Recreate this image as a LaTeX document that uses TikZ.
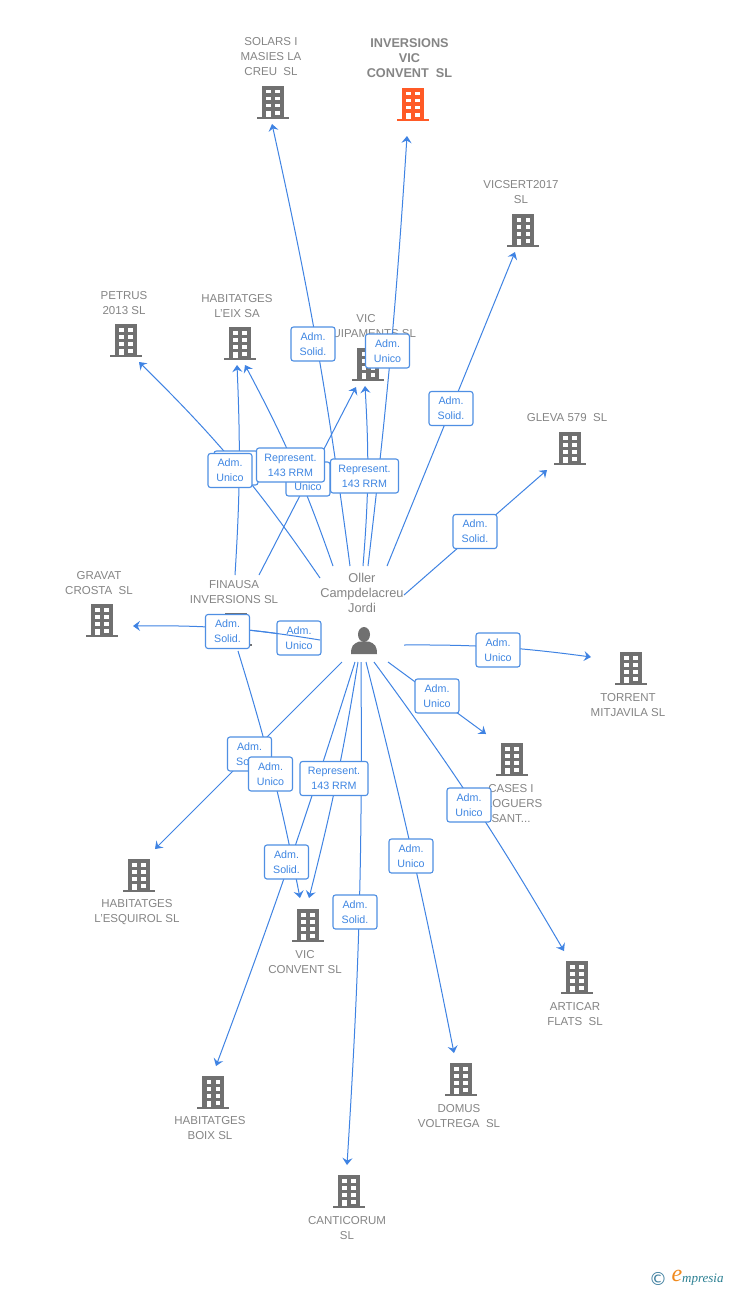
\documentclass[tikz,border=0pt]{standalone}
\usepackage{fontspec}
\setmainfont{Liberation Sans}
\newfontfamily\logofont{Liberation Serif}
\newfontfamily\symfont{DejaVu Sans}
\usetikzlibrary{arrows.meta}
\definecolor{conncol}{HTML}{3F83E3}
\definecolor{boxcol}{HTML}{4F8FE3}
\definecolor{boxtext}{HTML}{3F86E2}
\definecolor{graytext}{HTML}{858585}
\definecolor{iconcol}{HTML}{707070}
\definecolor{hotcol}{HTML}{FF5A26}
\definecolor{logoblue}{HTML}{3F7F9F}
\definecolor{logoteal}{HTML}{2A7F92}
\definecolor{logoorange}{HTML}{F08A1E}
\tikzset{
  conn/.style={draw=conncol,line width=1pt,-{Stealth[length=7pt,width=10pt,inset=2.5pt]}},
  lbl/.style={draw=boxcol,line width=1.1pt,rounded corners=2.5pt,fill=white,text=boxtext,
    minimum width=44pt,minimum height=34pt,inner sep=0pt,align=center,
    font=\fontsize{10.7}{15}\selectfont},
  lblwide/.style={lbl,minimum width=68pt},
  comp/.style={text=graytext,align=center,inner sep=0pt,yshift=-1pt,font=\fontsize{11.5}{15}\selectfont},
  compmain/.style={text=graytext,align=center,inner sep=0pt,font=\fontsize{12.7}{15}\selectfont\bfseries},
  persontext/.style={text=graytext,align=center,inner sep=0pt,font=\fontsize{12.8}{15}\selectfont},
  hub/.style={inner sep=0pt,outer sep=0pt},
}
\newcommand{\bldg}[3]{%
  \begin{scope}[shift={(#1,#2)}]
    \fill[#3] (-11,-16) rectangle (11,15.5);
    \fill[#3] (-16,15) rectangle (16,17);
    \foreach \yy in {-12,-5,2}{
      \fill[white] (-6.5,\yy) rectangle (-2,\yy+3.7);
      \fill[white] (2.5,\yy) rectangle (7,\yy+3.7);
    }
    \fill[white] (-6.5,9) rectangle (-2,15.2);
    \fill[white] (2.5,9) rectangle (7,13);
  \end{scope}}
\begin{document}
\begin{tikzpicture}[x=1pt,y=-1pt]
\useasboundingbox[fill=white] (0,0) rectangle (728,1290);

% building icons
\bldg{272.5}{101.5}{iconcol}
\bldg{412.5}{103.5}{hotcol}
\bldg{523}{230}{iconcol}
\bldg{125.5}{340}{iconcol}
\bldg{239.5}{343}{iconcol}
\bldg{368}{364}{iconcol}
\bldg{569.5}{448}{iconcol}
\bldg{101.5}{620}{iconcol}
\bldg{236}{629}{iconcol}
\bldg{630.5}{668}{iconcol}
\bldg{511.5}{759}{iconcol}
\bldg{138.5}{875}{iconcol}
\bldg{307.5}{925}{iconcol}
\bldg{576.5}{977}{iconcol}
\bldg{213}{1092}{iconcol}
\bldg{460.5}{1079}{iconcol}
\bldg{348.5}{1191}{iconcol}

% company names
\node[comp] (solars) at (271,56) {SOLARS I\\MASIES LA\\CREU\ \ SL};
\node[compmain] (inversions) at (409.5,58) {INVERSIONS\\VIC\\CONVENT\ \ SL};
\node[comp] (vicsert) at (521,191.5) {VICSERT2017\\SL};
\node[comp] (petrus) at (124,302) {PETRUS\\2013 SL};
\node[comp] (eix) at (237,305) {HABITATGES\\L'EIX SA};
\node[comp] (equip) at (366,326) {VIC\\EQUIPAMENTS SL};
\node[comp] (gleva) at (567,417) {GLEVA 579\ \ SL};
\node[comp] (gravat) at (99,582) {GRAVAT\\CROSTA\ \ SL};
\node[comp] (finausatxt) at (234,591.5) {FINAUSA\\INVERSIONS SL};
\node[comp] (torrent) at (628,704.5) {TORRENT\\MITJAVILA SL};
\node[comp] (cases) at (511,803) {CASES I\\LLOGUERS\\SANT...};
\node[comp] (esquirol) at (137,911.5) {HABITATGES\\L'ESQUIROL SL};
\node[comp] (convent) at (305,961.5) {VIC\\CONVENT SL};
\node[comp] (articar) at (575,1013.5) {ARTICAR\\FLATS\ \ SL};
\node[comp] (boix) at (210,1127.5) {HABITATGES\\BOIX SL};
\node[comp] (domus) at (459,1115.5) {DOMUS\\VOLTREGA\ \ SL};
\node[comp] (canti) at (347,1227.5) {CANTICORUM\\SL};

% person
\node[persontext] (personname) at (362,593) {Oller\\Campdelacreu\\Jordi};
\fill[iconcol] (364,634.5) ellipse (6pt and 7.5pt);
\fill[iconcol] (351,654) .. controls (351,646) and (353,644) .. (359,641.5) -- (369,641.5)
  .. controls (375,644) and (377,646) .. (377,654) -- cycle;

% invisible extents the connectors leave from
\node[hub,minimum width=84pt,minimum height=96pt] (person) at (362,614) {};
\node[hub,minimum width=88pt,minimum height=76pt] (finausa) at (234,613) {};

% arrow ends
\coordinate (tsolars) at (272,124);
\coordinate (tinv) at (407,136);
\coordinate (tvicsert) at (515,252);
\coordinate (tpetrus) at (139,362);
\coordinate (teixa) at (237,365);
\coordinate (teixb) at (245,365);
\coordinate (tequipa) at (356,387);
\coordinate (tequipb) at (365,386);
\coordinate (tgleva) at (547,470);
\coordinate (tgravat) at (133,626);
\coordinate (tfinausa) at (240.6,629.3);
\coordinate (ttorrent) at (591,657);
\coordinate (tcases) at (486,734);
\coordinate (tesquirol) at (155,849);
\coordinate (tconva) at (300,898);
\coordinate (tconvb) at (309,898);
\coordinate (tarticar) at (564,951);
\coordinate (tboix) at (216,1066);
\coordinate (tdomus) at (454,1053);
\coordinate (tcanti) at (347,1165);

% connectors
\draw[conn] ([xshift=-12pt]person.north) to[bend right=2.5] (tsolars);
\draw[conn] ([xshift=6pt]person.north) to[bend right=1.5] (tinv);
\draw[conn] ([xshift=25pt]person.north) -- (tvicsert);
\draw[conn] ([yshift=19pt]person.east) -- (tgleva);
\draw[conn] ([yshift=-31pt]person.east) to[bend left=4] (ttorrent);
\draw[conn] ([xshift=26pt]person.south) -- (tcases);
\draw[conn] ([xshift=12pt]person.south) to[bend left=3] (tarticar);
\draw[conn] ([xshift=4pt]person.south) to[bend left=1.5] (tdomus);
\draw[conn] ([xshift=-1pt]person.south) to[bend left=2] (tcanti);
\draw[conn] ([xshift=-7pt]person.south) to[bend left=1.5] (tboix);
\draw[conn] ([xshift=-4pt]person.south) to[bend left=2.5] (tconvb);
\draw[conn] ([xshift=-20pt]person.south) -- (tesquirol);
\draw[conn] ([xshift=4pt]finausa.south) to[bend left=3] (tconva);
\draw[conn] ([yshift=36pt]person.west) to[bend right=5.5] (tpetrus);
\draw[conn] ([xshift=-29pt]person.north) to[bend right=4.4] (teixb);
\draw[conn] ([xshift=1pt]person.north) to[bend right=4] (tequipb);
\draw[conn] ([xshift=1pt]finausa.north) to[bend right=3] (teixa);
\draw[conn] ([xshift=25pt]finausa.north) -- (tequipa);
\draw[conn] ([yshift=-26pt]person.west) .. controls (289.6,635) and (264.7,631.6) .. (tfinausa);

\node[lbl] (l1) at (299,638) {Adm.\\Unico};

\draw[conn] ([yshift=-26pt]person.west) to[bend right=5] (tgravat);

% role labels
\node[lbl] (l2) at (236,468) {Adm.\\Unico};
\node[lbl] (l3) at (308,479) {Adm.\\Unico};
\node[lbl] (l4) at (230,470.5) {Adm.\\Unico};
\node[lblwide] (l5) at (290.5,465) {Represent.\\143 RRM};
\node[lblwide] (l6) at (364.5,476) {Represent.\\143 RRM};
\node[lbl] (l7) at (313,344) {Adm.\\Solid.};
\node[lbl] (l8) at (387.5,351) {Adm.\\Unico};
\node[lbl] (l9) at (451,408.5) {Adm.\\Solid.};
\node[lbl] (l10) at (475,531.5) {Adm.\\Solid.};
\node[lbl] (l11) at (227.5,631.5) {Adm.\\Solid.};
\node[lbl] (l12) at (498,650) {Adm.\\Unico};
\node[lbl] (l13) at (437,696) {Adm.\\Unico};
\node[lbl] (l14) at (249.5,754) {Adm.\\Solid.};
\node[lbl] (l15) at (270.5,774) {Adm.\\Unico};
\node[lblwide] (l16) at (334,778.5) {Represent.\\143 RRM};
\node[lbl] (l17) at (469,805) {Adm.\\Unico};
\node[lbl] (l18) at (411,856) {Adm.\\Unico};
\node[lbl] (l19) at (286.5,862) {Adm.\\Solid.};
\node[lbl] (l20) at (355,912) {Adm.\\Solid.};

% logo
\node[inner sep=0pt,text=logoblue,font=\symfont\fontsize{18}{18}\selectfont] (logoc) at (658,1279) {©};
\node[inner sep=0pt,text=logoorange,font=\logofont\itshape\fontsize{24}{24}\selectfont] (logoe) at (677,1276) {e};
\node[inner sep=0pt,anchor=west,text=logoteal,font=\logofont\itshape\fontsize{13}{13}\selectfont] (logom) at (682,1280) {mpresia};
\end{tikzpicture}
\end{document}
